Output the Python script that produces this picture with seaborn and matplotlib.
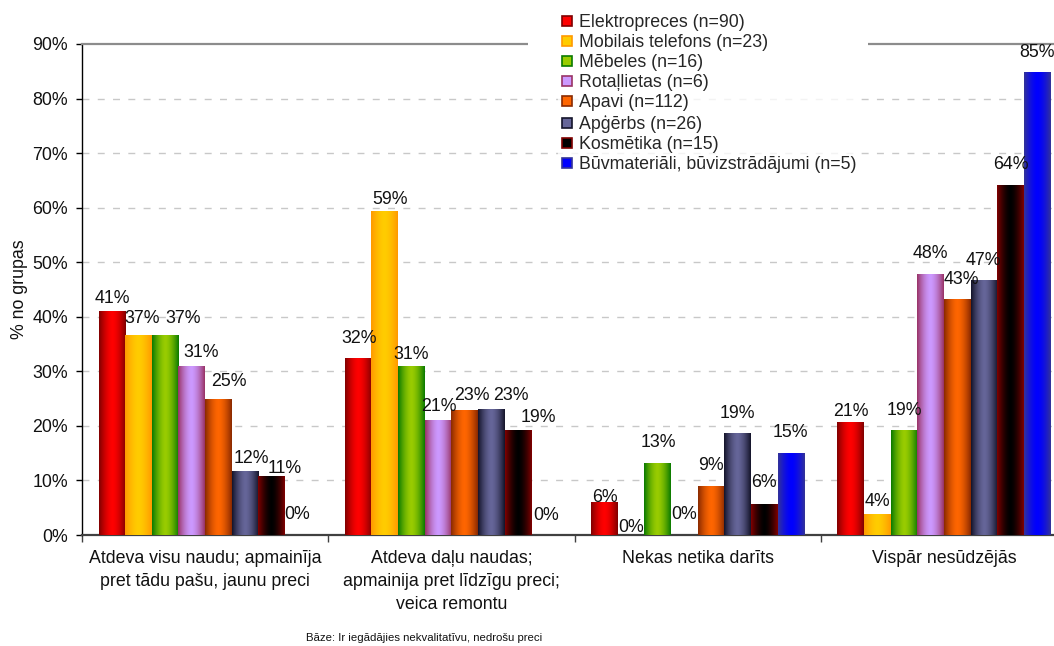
import numpy as np
import pandas as pd
import matplotlib
matplotlib.use("Agg")
import matplotlib.pyplot as plt
from matplotlib.lines import Line2D
from matplotlib.patches import Rectangle
from matplotlib.ticker import FixedLocator, FuncFormatter
import seaborn as sns

# ---- data -------------------------------------------------------------
categories = [
    "Atdeva visu naudu; apmainīja\npret tādu pašu, jaunu preci",
    "Atdeva daļu naudas;\napmainija pret līdzīgu preci;\nveica remontu",
    "Nekas netika darīts",
    "Vispār nesūdzējās",
]
series = [
    "Elektropreces (n=90)",
    "Mobilais telefons (n=23)",
    "Mēbeles (n=16)",
    "Rotaļlietas (n=6)",
    "Apavi (n=112)",
    "Apģērbs (n=26)",
    "Kosmētika (n=15)",
    "Būvmateriāli, būvizstrādājumi (n=5)",
]
elektropreces = [41.1, 32.5, 6.0, 20.7]
mobilais = [36.6, 59.4, 0.0, 3.8]
mebeles = [36.6, 31.0, 13.2, 19.2]
rotallietas = [31.0, 21.1, 0.0, 47.9]
apavi = [24.9, 22.9, 9.0, 43.2]
apgerbs = [11.7, 23.1, 18.7, 46.7]
kosmetika = [10.8, 19.2, 5.7, 64.1]
buvmateriali = [0.0, 0.0, 15.0, 84.8]
y_ticks = [0, 10, 20, 30, 40, 50, 60, 70, 80, 90]

values = [elektropreces, mobilais, mebeles, rotallietas,
          apavi, apgerbs, kosmetika, buvmateriali]

# bar shading: (centre colour, edge colour)
center_colors = ["#FF0000", "#FFCC00", "#99CC00", "#CC99FF",
                 "#FF6600", "#666699", "#000000", "#0000FF"]
edge_colors = ["#800000", "#FF9900", "#0A7A00", "#993366",
               "#8A2A00", "#14142A", "#800000", "#333399"]

# value-label placement per series and category, in pixels:
# (horizontal shift from bar centre, gap from bar top to text baseline)
label_offsets = [
    [(0, 8), (1, 15), (1, 0), (0, 6)],
    [(4, 12), (5, 7), (0, 3), (0, 8)],
    [(18, 12), (0, 7), (1, 16), (0, 15)],
    [(9, 9), (1, 9), (0, 16), (0, 16)],
    [(10, 13), (7, 10), (0, 16), (4, 15)],
    [(6, 8), (20, 9), (0, 15), (0, 15)],
    [(13, 3), (20, 8), (0, 17), (0, 16)],
    [(-1, 16), (2, 15), (0, 16), (0, 15)],
]

df = pd.DataFrame(
    [(c, s, v) for s, vals in zip(series, values) for c, v in zip(categories, vals)],
    columns=["category", "series", "value"],
)

# ---- figure -----------------------------------------------------------
sns.set_theme(style="white")
plt.rcParams["font.family"] = ["Liberation Sans", "DejaVu Sans"]
FS = 12.8
plt.rcParams["font.size"] = FS
TXT = "#111111"

W, H = 1054, 646
fig = plt.figure(figsize=(W / 100, H / 100), dpi=100)
ax = fig.add_axes([82 / W, (H - 535) / H, (1067 - 82) / W, (535 - 44) / H])

sns.barplot(data=df, x="category", y="value", hue="series",
            order=categories, hue_order=series,
            palette=center_colors, width=0.865, dodge=True,
            saturation=1, legend=False, ax=ax, zorder=3)


def gradient_row(c_center, c_edge, n=64):
    cc = np.array(matplotlib.colors.to_rgb(c_center))
    ce = np.array(matplotlib.colors.to_rgb(c_edge))
    t = np.linspace(0, 1, n)
    s = np.abs(2 * t - 1) ** 1.6
    return (cc[None, :] * (1 - s[:, None]) + ce[None, :] * s[:, None])[None, :, :]


for cont, cc, ce, offs in zip(ax.containers, center_colors, edge_colors,
                              label_offsets):
    img = gradient_row(cc, ce)
    for patch, val, (dx, gap) in zip(cont.patches, cont.datavalues, offs):
        patch.set_edgecolor("none")
        x0, y0 = patch.get_x(), patch.get_y()
        w, h = patch.get_width(), patch.get_height()
        if h > 0:
            im = ax.imshow(img, extent=[x0, x0 + w, y0, y0 + h], aspect="auto",
                           interpolation="bilinear", zorder=3.5)
            im.set_clip_path(patch)
        ax.annotate(f"{val:.0f}%", xy=(x0 + w / 2, y0 + h),
                    xytext=(dx, gap), textcoords="offset pixels",
                    ha="center", va="baseline", fontsize=FS, color=TXT,
                    zorder=6)

ax.set_xlim(-0.5, 3.5)
ax.set_ylim(0, 90)
ax.set_aspect("auto")

# axes styling
ax.yaxis.set_major_locator(FixedLocator(y_ticks))
ax.yaxis.set_major_formatter(FuncFormatter(lambda v, p: f"{v:.0f}%"))
for yv in y_ticks[1:-1]:
    ax.axhline(yv, color="#C8C8C8", lw=1.0, ls=(0, (5, 6)), zorder=1)

ax.spines["right"].set_visible(False)
ax.spines["top"].set_color("#8C8C8C")
ax.spines["top"].set_linewidth(1.6)
ax.spines["left"].set_color("#000000")
ax.spines["left"].set_linewidth(1.0)
ax.spines["bottom"].set_color("#404040")
ax.spines["bottom"].set_linewidth(1.6)

ax.tick_params(axis="y", which="major", left=True, length=4, width=1,
               color="#000000", direction="out", pad=6, labelsize=FS,
               labelcolor=TXT)
ax.set_xticks(range(len(categories)))
ax.set_xticklabels(categories, linespacing=1.45)
ax.set_xticks([-0.5, 0.5, 1.5, 2.5, 3.5], minor=True)
ax.tick_params(axis="x", which="major", bottom=True, length=0, pad=11,
               labelsize=FS, labelcolor=TXT)
ax.tick_params(axis="x", which="minor", bottom=True, length=5, width=1,
               color="#404040", direction="out")

ax.set_xlabel("")
ax.set_ylabel("% no grupas", fontsize=FS, color=TXT, labelpad=3)

# legend
handles = [Line2D([0], [0], marker="s", linestyle="none", markersize=7,
                  markerfacecolor=cc, markeredgecolor=ce, markeredgewidth=1.2)
           for cc, ce in zip(center_colors, edge_colors)]
leg = fig.legend(handles, series, loc="upper left",
                 bbox_to_anchor=(558 / W, 1 - 10 / H), frameon=True,
                 fontsize=FS, handlelength=0.6, handleheight=0.6,
                 handletextpad=0.4, labelspacing=0.18, borderpad=0.2,
                 borderaxespad=0)
leg.get_frame().set_facecolor("white")
leg.get_frame().set_edgecolor("none")
leg.get_frame().set_boxstyle("square", pad=0)

# white panel behind the legend over the top frame line
fig.add_artist(Rectangle((528 / W, (H - 60) / H), (868 - 528) / W, 30 / H,
                         transform=fig.transFigure, facecolor="white",
                         edgecolor="none", zorder=2))

fig.text(424 / W, 1 - 638 / H, "Bāze: Ir iegādājies nekvalitatīvu, nedrošu preci",
         ha="center", va="center", fontsize=8.2, color=TXT)

fig.savefig("out.png", dpi=100)
